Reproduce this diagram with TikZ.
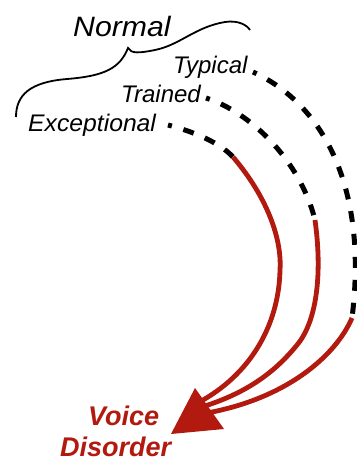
\documentclass[tikz,border=0pt]{standalone}
\usepackage{fontspec}
\setmainfont{Liberation Sans}
\usetikzlibrary{calc}
\definecolor{vred}{RGB}{178,26,16}

\begin{document}
\begin{tikzpicture}[x=1pt,y=-1pt,
    lbl/.style={font=\itshape\fontsize{24}{24}\selectfont,anchor=base west,inner sep=0pt},
    dis/.style={font=\bfseries\itshape\fontsize{27}{27}\selectfont,text=vred,anchor=base west,inner sep=0pt},
    dots/.style={line width=5pt,dash pattern=on 11pt off 12pt,dash phase=7pt},
    redline/.style={line width=4.8pt,vred}]
    \useasboundingbox (0,0) rectangle (356,463);

    \node[lbl,font=\itshape\fontsize{28}{28}\selectfont] (normal) at (73,36) {\scalebox{1.08}[1]{Normal}};
    \node[lbl] (typical) at (173,73) {Typical};
    \node[lbl] (trained) at (121,102) {Trained};
    \node[lbl] (exceptional) at (28,131) {\scalebox{1.03}[1]{Exceptional}};
    \node[dis] (voice) at (88,425) {Voice};
    \node[dis] (disorder) at (60,456) {Disorder};

    % brace over the three groups
    \draw[line width=1.8pt] (16,117) .. controls (16,95) and (30,82) .. (67,79)
        .. controls (105,76) and (120,68) .. (128,48)
        .. controls (131,54) and (140,53) .. (155,50)
        .. controls (180,45) and (195,27) .. (225,22)
        .. controls (238,20) and (247,25) .. (250,30);

    \coordinate (ex0) at (168,125);
    \coordinate (ex1) at (233,157);
    \coordinate (ex2) at (203,400);
    \coordinate (tr0) at (206,98);
    \coordinate (tr1) at (315,220);
    \coordinate (tr2) at (205,406);
    \coordinate (ty0) at (253,72);
    \coordinate (ty1) at (352,318);
    \coordinate (ty2) at (207,413);
    \coordinate (top) at (195,388);
    \coordinate (rgt) at (224,429);
    \coordinate (tip) at (171,434);

    \draw[dots] (ex0) .. controls (195,132) and (220,143) .. (ex1);
    \draw[dots] (tr0) .. controls (250,112) and (300,160) .. (tr1);
    \draw[dots] (ty0) .. controls (325,105) and (368,190) .. (ty1);

    \draw[redline] (ex1) .. controls (268,198) and (282,240) .. (280,270)
        .. controls (279,320) and (255,370) .. (ex2);
    \draw[redline] (tr1) .. controls (322,270) and (318,320) .. (297,345)
        .. controls (275,372) and (248,392) .. (tr2);
    \draw[redline] (ty1) .. controls (336,355) and (288,398) .. (ty2);
    \fill[vred] (top) -- (rgt) -- (tip) -- cycle;
\end{tikzpicture}
\end{document}
